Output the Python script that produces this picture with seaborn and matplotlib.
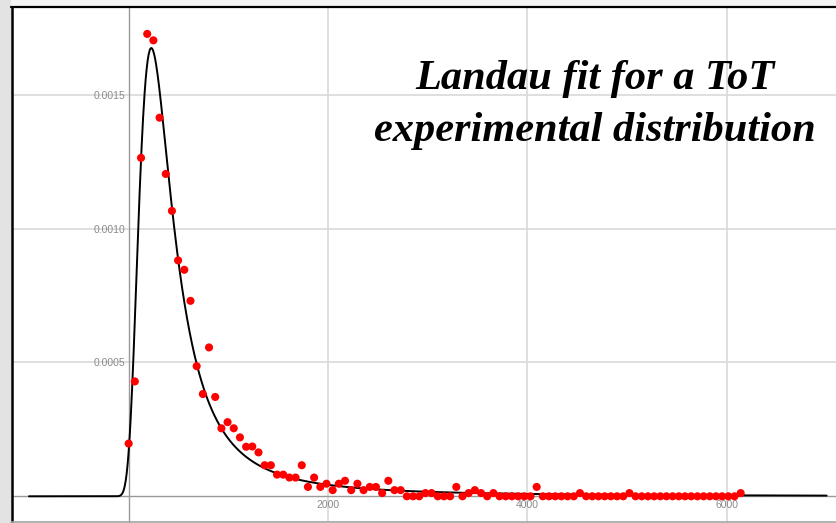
import numpy as np
import pandas as pd
import seaborn as sns
import matplotlib
matplotlib.use("Agg")
import matplotlib.pyplot as plt
from matplotlib.lines import Line2D
from matplotlib.patches import Rectangle
from matplotlib.ticker import FixedLocator

# ---------------- data ----------------
tot_bins = [0, 62, 124, 186, 248, 310, 372, 434, 496, 558,
            620, 682, 744, 806, 868, 930, 992, 1054, 1116, 1178,
            1240, 1302, 1364, 1426, 1488, 1550, 1612, 1674, 1736, 1798,
            1860, 1922, 1984, 2046, 2108, 2170, 2232, 2294, 2356, 2418,
            2480, 2542, 2604, 2666, 2728, 2790, 2852, 2914, 2976, 3038,
            3100, 3162, 3224, 3286, 3348, 3410, 3472, 3534, 3596, 3658,
            3720, 3782, 3844, 3906, 3968, 4030, 4092, 4154, 4216, 4278,
            4340, 4402, 4464, 4526, 4588, 4650, 4712, 4774, 4836, 4898,
            4960, 5022, 5084, 5146, 5208, 5270, 5332, 5394, 5456, 5518,
            5580, 5642, 5704, 5766, 5828, 5890, 5952, 6014, 6076, 6138]
density = [0.000197, 0.000429, 0.001264, 0.001727, 0.001703, 0.001414, 0.001204, 0.001066, 0.000881, 0.000846,
           0.000730, 0.000486, 0.000382, 0.000556, 0.000371, 0.000254, 0.000277, 0.000254, 0.000220, 0.000185,
           0.000186, 0.000164, 0.000116, 0.000116, 0.000081, 0.000081, 0.000070, 0.000070, 0.000116, 0.000035,
           0.000070, 0.000035, 0.000047, 0.000023, 0.000047, 0.000058, 0.000023, 0.000047, 0.000023, 0.000035,
           0.000035, 0.000012, 0.000058, 0.000023, 0.000023, 0.0, 0.0, 0.0, 0.000012, 0.000012,
           0.0, 0.0, 0.0, 0.000035, 0.0, 0.000012, 0.000023, 0.000012, 0.0, 0.000012,
           0.0, 0.0, 0.0, 0.0, 0.0, 0.0, 0.000035, 0.0, 0.0, 0.0,
           0.0, 0.0, 0.0, 0.000012, 0.0, 0.0, 0.0, 0.0, 0.0, 0.0,
           0.0, 0.000012, 0.0, 0.0, 0.0, 0.0, 0.0, 0.0, 0.0, 0.0,
           0.0, 0.0, 0.0, 0.0, 0.0, 0.0, 0.0, 0.0, 0.0, 0.000012]

# Landau fit parameters (location / scale of standard Landau)
fit_mu = 251.0
fit_sigma = 107.9
curve_start, curve_end = -1000, 7000

x_ticks = [2000, 4000, 6000]
x_tick_labels = ["2000", "4000", "6000"]
y_ticks = [0.0005, 0.0010, 0.0015]
y_tick_labels = ["0.0005", "0.0010", "0.0015"]
title_lines = ["Landau fit for a ToT", "experimental distribution"]


def landau_pdf(x, mu, sigma):
    lam = (np.asarray(x, dtype=float) - mu) / sigma
    k = np.linspace(0.0, 40.0, 40001)
    safe = np.where(k > 0, k, 1.0)
    klnk = np.where(k > 0, k * np.log(safe), 0.0)
    damp = np.exp(-np.pi * k / 2.0)
    out = np.empty_like(lam)
    for i in range(0, len(lam), 100):
        l = lam[i:i + 100, None]
        out[i:i + 100] = np.trapezoid(damp * np.cos(klnk + l * k), k, axis=1)
    return out / np.pi / sigma


curve_x = np.linspace(curve_start, curve_end, 1601)
curve_y = landau_pdf(curve_x, fit_mu, fit_sigma)
curve_df = pd.DataFrame({"ToT": curve_x, "pdf": curve_y})
points_df = pd.DataFrame({"ToT": tot_bins, "density": density})

# ---------------- style ----------------
sns.set_style("white")
plt.rcParams["font.family"] = ["Liberation Sans", "DejaVu Sans"]

W, H = 836, 523
fig = plt.figure(figsize=(W / 100, H / 100), dpi=100, facecolor="#f5f5f5")
ax = fig.add_axes([12 / W, 1 / H, 824 / W, 515 / H])
ax.set_facecolor("white")

sns.lineplot(data=curve_df, x="ToT", y="pdf", color="black", linewidth=1.4,
             ax=ax, zorder=3)
sns.scatterplot(data=points_df, x="ToT", y="density", color="#ff0000", s=34,
                edgecolor="none", linewidth=0, ax=ax, zorder=4)

ax.set_xlim(-1170, 7094)
ax.set_ylim(-0.000096, 0.0018275)
ax.set_xlabel("")
ax.set_ylabel("")

for s in ["top", "right"]:
    ax.spines[s].set_visible(False)
ax.spines["left"].set_position(("data", 0))
ax.spines["bottom"].set_position(("data", 0))
for s in ["left", "bottom"]:
    ax.spines[s].set_color("#999999")
    ax.spines[s].set_linewidth(1.0)
    ax.spines[s].set_zorder(2.5)

ax.set_xticks(x_ticks)
ax.set_xticklabels(x_tick_labels)
ax.set_yticks(y_ticks)
ax.set_yticklabels(y_tick_labels)
ax.xaxis.set_minor_locator(FixedLocator([v for v in range(500, 7001, 500) if v not in x_ticks]))
ax.yaxis.set_minor_locator(FixedLocator([round(v * 0.0001, 4) for v in range(1, 19)
                                         if round(v * 0.0001, 4) not in y_ticks]))
ax.grid(True, which="major", color="#d9d9d9", linewidth=1.2)
ax.set_axisbelow(True)
ax.tick_params(axis="both", which="both", direction="in", color="#999999",
               labelcolor="#8a8a8a", labelsize=7.5, pad=2.5)
ax.tick_params(axis="both", which="major", length=3, width=0.8)
ax.tick_params(axis="both", which="minor", length=1.8, width=0.6)

# frame
fig.add_artist(Rectangle((0, 0), 11 / W, 1, transform=fig.transFigure,
                         facecolor="#e3e3e3", edgecolor="none", zorder=0))
fig.add_artist(Line2D([11 / W, 1], [1 - 7 / H, 1 - 7 / H], transform=fig.transFigure,
                      color="black", linewidth=1.6))
fig.add_artist(Line2D([11.5 / W, 11.5 / W], [1 / H, 1 - 6.5 / H], transform=fig.transFigure,
                      color="black", linewidth=1.8))
fig.add_artist(Line2D([11 / W, 1], [1.2 / H, 1.2 / H], transform=fig.transFigure,
                      color="#a6a6a6", linewidth=1.2))

# title text
title_kw = dict(ha="center", va="baseline", fontsize=30.5, weight="bold", style="italic",
                family=["Liberation Serif", "DejaVu Serif"], color="black")
fig.text(595 / W, 1 - 89 / H, title_lines[0], **title_kw)
fig.text(595 / W, 1 - 141 / H, title_lines[1], **title_kw)

fig.savefig("out.png", dpi=100, facecolor=fig.get_facecolor())
